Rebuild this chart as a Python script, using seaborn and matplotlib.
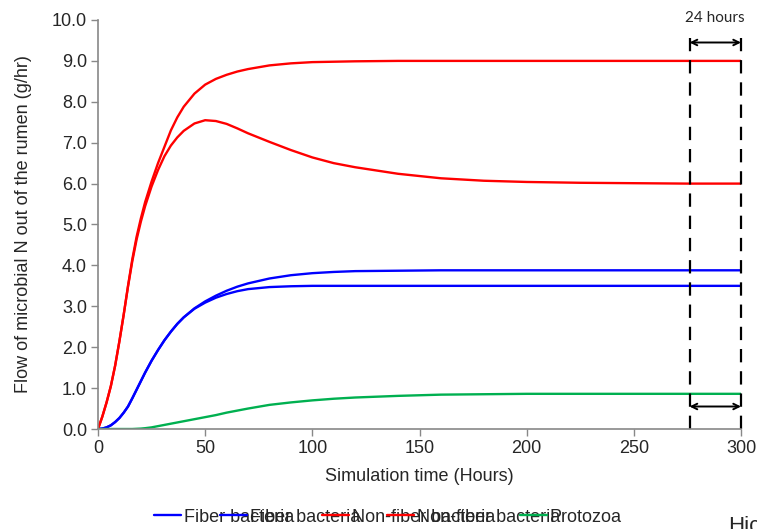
import numpy as np
import pandas as pd
import matplotlib
matplotlib.use("Agg")
import matplotlib.pyplot as plt
import seaborn as sns
from matplotlib.lines import Line2D

sns.set_style("white")
plt.rcParams['font.family'] = ['Liberation Sans', 'DejaVu Sans']

# ---- data ----
time_h = [0, 2, 4, 6, 8, 10, 12, 14, 16, 18, 20, 22, 25, 28, 31, 34, 37, 40, 45, 50, 55, 60, 65,
          70, 80, 90, 100, 110, 120, 140, 160, 180, 200, 225, 250, 275, 300]
red_high = [0, 0.30, 0.65, 1.05, 1.55, 2.15, 2.80, 3.50, 4.15, 4.70, 5.15, 5.55, 6.05, 6.50, 6.90,
            7.30, 7.62, 7.88, 8.20, 8.42, 8.56, 8.66, 8.74, 8.80, 8.89, 8.94, 8.97, 8.98, 8.99,
            9.00, 9.00, 9.00, 9.00, 9.00, 9.00, 9.00, 9.00]
red_low = [0, 0.30, 0.65, 1.05, 1.55, 2.15, 2.80, 3.48, 4.10, 4.63, 5.07, 5.45, 5.93, 6.33, 6.67,
           6.93, 7.13, 7.29, 7.47, 7.55, 7.53, 7.46, 7.35, 7.23, 7.02, 6.82, 6.64, 6.50, 6.40,
           6.24, 6.13, 6.07, 6.04, 6.02, 6.01, 6.00, 6.00]
blue_high = [0, 0.01, 0.04, 0.09, 0.17, 0.27, 0.40, 0.55, 0.75, 0.96, 1.17, 1.38, 1.67, 1.93, 2.17,
             2.38, 2.57, 2.73, 2.95, 3.12, 3.26, 3.38, 3.48, 3.56, 3.68, 3.76, 3.81, 3.84, 3.86,
             3.87, 3.88, 3.88, 3.88, 3.88, 3.88, 3.88, 3.88]
blue_low = [0, 0.01, 0.04, 0.09, 0.17, 0.27, 0.40, 0.55, 0.75, 0.96, 1.17, 1.38, 1.67, 1.93, 2.17,
            2.38, 2.57, 2.73, 2.94, 3.09, 3.21, 3.30, 3.37, 3.42, 3.47, 3.49, 3.50, 3.50, 3.50,
            3.50, 3.50, 3.50, 3.50, 3.50, 3.50, 3.50, 3.50]
protozoa = [0, 0, 0, 0, 0, 0, 0, 0, 0, 0.005, 0.01, 0.02, 0.04, 0.07, 0.10, 0.13, 0.16, 0.19, 0.24,
            0.29, 0.34, 0.40, 0.45, 0.50, 0.59, 0.65, 0.70, 0.74, 0.77, 0.81, 0.84, 0.85, 0.86,
            0.86, 0.86, 0.86, 0.86]

legend_labels = ["Fiber bacteria", "Fiber bacteria", "Non-fiber bacteria", "Non-fiber bacteria", "Protozoa"]
series = [blue_high, blue_low, red_high, red_low, protozoa]
colors = ["#0000FF", "#0000FF", "#FF0000", "#FF0000", "#00B050"]

y_ticks = [0, 1, 2, 3, 4, 5, 6, 7, 8, 9, 10]
x_ticks = [0, 50, 100, 150, 200, 250, 300]
window_start, window_end = 276, 300

FS = 13

fig = plt.figure(figsize=(7.57, 5.29), dpi=100)
ax = fig.add_axes([98/757, 1-429/529, (741-98)/757, (429-20)/529])

for vals, col in zip(series, colors):
    df = pd.DataFrame({"t": time_h, "v": vals})
    sns.lineplot(data=df, x="t", y="v", ax=ax, color=col, linewidth=1.7, legend=False)

ax.set_xlim(0, 300)
ax.set_ylim(0, 10)
ax.set_xticks(x_ticks)
ax.set_yticks(y_ticks)
ax.set_yticklabels([f"{v:.1f}" for v in y_ticks])
ax.tick_params(axis='both', labelsize=FS, length=5, width=1, color='#888888', direction='out',
               left=True, bottom=True, pad=3)
for s in ["top", "right"]:
    ax.spines[s].set_visible(False)
for s in ["left", "bottom"]:
    ax.spines[s].set_color('#888888')
    ax.spines[s].set_linewidth(1.2)
ax.set_xlabel("Simulation time (Hours)", fontsize=FS, labelpad=8)
ax.set_ylabel("Flow of microbial N out of the rumen (g/hr)", fontsize=FS, labelpad=14)

# 24-hour window annotation
for xv in (window_start, window_end):
    ax.plot([xv, xv], [0, 9.56], color='black', linewidth=1.6, linestyle=(0, (6, 4)), clip_on=False)
for yv in (9.45, 0.55):
    ax.annotate("", xy=(window_start, yv), xytext=(window_end, yv),
                arrowprops=dict(arrowstyle='<->', color='black', lw=1.4, shrinkA=0, shrinkB=0))
ax.text((window_start + window_end) / 2, 10.05, "24 hours", ha='center', va='center',
        fontsize=11, family=['Lato', 'DejaVu Sans'], clip_on=False)

# legend (entries overlapping, as in the reference)
starts = [154, 220, 322, 387, 520]
for lab, col, xs in zip(legend_labels, colors, starts):
    h = Line2D([], [], color=col, linewidth=1.7)
    lg = fig.legend([h], [lab], loc='center left', bbox_to_anchor=(xs/757, 1-517/529),
                    frameon=False, fontsize=FS, handlelength=1.5, handletextpad=0.15,
                    borderpad=0, borderaxespad=0)
    lg.set_zorder(5)

fig.text(728/757, 1-516/529, "Hic", fontsize=16, ha='left', va='top')

fig.savefig("out.png", dpi=100)
